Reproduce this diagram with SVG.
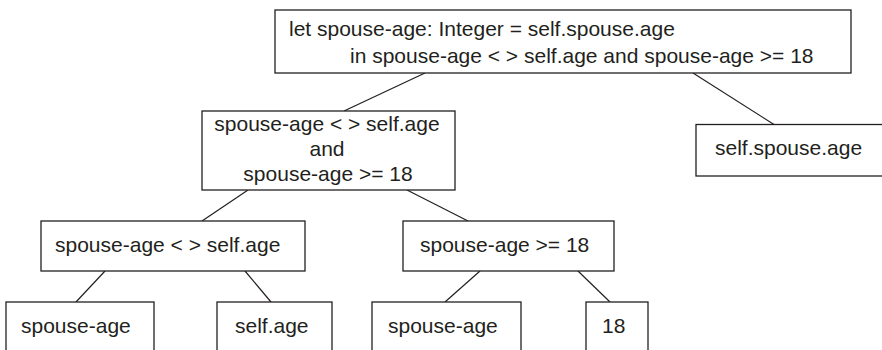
<svg xmlns="http://www.w3.org/2000/svg" width="882" height="350" viewBox="0 0 882 350">
  <style>
    .box { fill: #ffffff; stroke: #231f20; stroke-width: 1.3; }
    .edge { stroke: #231f20; stroke-width: 1.2; fill: none; }
    .lbl { font-family: "Liberation Sans", Arial, sans-serif; font-size: 21px; fill: #231f20; }
    .mid { text-anchor: middle; }
  </style>
  <rect width="882" height="350" fill="#ffffff"/>

  <!-- connectors of the parse tree -->
  <g id="connectors">
    <line class="edge" x1="425" y1="73" x2="344" y2="111"/>
    <line class="edge" x1="693" y1="73" x2="774" y2="124.5"/>
    <line class="edge" x1="248" y1="190" x2="202" y2="221"/>
    <line class="edge" x1="407" y1="190" x2="468" y2="221"/>
    <line class="edge" x1="105" y1="271" x2="76" y2="302"/>
    <line class="edge" x1="245" y1="271" x2="271" y2="302"/>
    <line class="edge" x1="480" y1="271" x2="445" y2="302"/>
    <line class="edge" x1="578" y1="271" x2="610" y2="302"/>
  </g>

  <g id="let-expr">
    <rect class="box" x="275" y="10" width="576" height="63"/>
    <text class="lbl" x="289" y="36">let spouse-age: Integer = self.spouse.age</text>
    <text class="lbl" x="350" y="63">in spouse-age &lt; &gt; self.age and spouse-age &gt;= 18</text>
  </g>

  <g id="and-expr">
    <rect class="box" x="202" y="111" width="253" height="79"/>
    <text class="lbl mid" x="327" y="131">spouse-age &lt; &gt; self.age</text>
    <text class="lbl mid" x="327" y="156">and</text>
    <text class="lbl mid" x="328" y="181">spouse-age &gt;= 18</text>
  </g>

  <g id="init-expr">
    <rect class="box" x="696" y="124.5" width="200" height="51.5"/>
    <text class="lbl" x="715" y="155">self.spouse.age</text>
  </g>

  <g id="neq-expr">
    <rect class="box" x="41" y="221" width="264" height="50"/>
    <text class="lbl" x="55" y="252">spouse-age &lt; &gt; self.age</text>
  </g>

  <g id="ge-expr">
    <rect class="box" x="403" y="221" width="211" height="50"/>
    <text class="lbl" x="420" y="252">spouse-age &gt;= 18</text>
  </g>

  <g id="leaf-spouse-age-1">
    <rect class="box" x="6" y="302" width="148" height="60"/>
    <text class="lbl" x="21" y="333">spouse-age</text>
  </g>

  <g id="leaf-self-age">
    <rect class="box" x="217" y="302" width="115" height="60"/>
    <text class="lbl" x="235" y="333">self.age</text>
  </g>

  <g id="leaf-spouse-age-2">
    <rect class="box" x="372" y="302" width="149" height="60"/>
    <text class="lbl" x="388" y="333">spouse-age</text>
  </g>

  <g id="leaf-18">
    <rect class="box" x="586" y="302" width="62" height="60"/>
    <text class="lbl" x="602" y="333">18</text>
  </g>
</svg>
